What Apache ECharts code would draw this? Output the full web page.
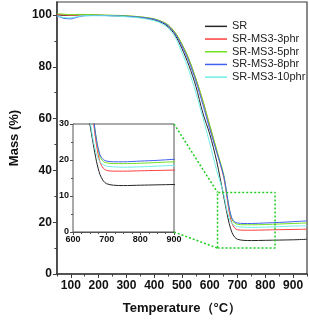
<!DOCTYPE html>
<html>
<head>
<meta charset="utf-8">
<script src="https://cdn.jsdelivr.net/npm/echarts@6/dist/echarts.min.js"></script>
<style>html,body{margin:0;padding:0;background:#fff}#c{width:309px;height:320px}</style>
</head>
<body>
<div id="c"></div>
<script>
const temps = [50,75,100,125,150,200,250,300,350,400,430,450,475,500,525,550,575,600,625,650,660,670,680,690,700,720,750,800,850,900,950];
const SR      = [100,99.8,99.9,100,100.1,99.9,99.7,99.5,99.0,98.1,96.9,95.5,92.3,87.0,80.5,72.5,62.2,54,43.5,30,24.5,19.5,16,14.2,13.4,13.0,12.9,13.0,13.1,13.2,13.4];
const MS3_3   = [100.2,100.0,99.9,100.0,100.1,99.9,99.8,99.6,99.2,98.4,97.3,96.1,93.2,88.6,82.8,75.3,66.8,57.2,47.5,37.5,31,24,19.5,17.7,17.1,16.9,16.9,17.0,17.1,17.2,17.3];
const MS3_5   = [100.6,100.3,100.1,100.2,100.2,100.0,99.9,99.7,99.3,98.5,97.4,96.2,93.3,88.8,83,75.5,67,57.5,48,38.5,32,25.5,21,19.6,19.2,19.0,19.0,19.1,19.3,19.5,19.7];
const MS3_8   = [99.6,98.7,98.5,99.2,99.7,99.8,99.7,99.5,99.1,98.3,97.1,95.8,92.8,88.0,82,74.5,65.5,56,47,38,32,25.5,21.5,20.1,19.7,19.5,19.5,19.7,19.9,20.2,20.5];
const MS3_10  = [99.7,99.0,98.9,99.4,99.7,99.7,99.6,99.3,98.8,97.8,96.5,95.0,91.5,85.5,78.5,70,60.5,50.5,40,31,25.5,21.5,19.5,18.7,18.3,18.1,18.0,18.1,18.3,18.5,18.6];

const seriesNames = ['SR','SR-MS3-3phr','SR-MS3-5phr','SR-MS3-8phr','SR-MS3-10phr'];
const seriesValues = [SR, MS3_3, MS3_5, MS3_8, MS3_10];
const colors = ['#262626','#ff4040','#70e020','#4060f0','#70f0e8'];

const xTicks = [100,200,300,400,500,600,700,800,900];
const xMinorTicks = [50,150,250,350,450,550,650,750,850,950];
const yTicks = [0,20,40,60,80,100];
const yMinorTicks = [10,30,50,70,90];
const insetXTicks = [600,700,800,900];
const insetYTicks = [0,10,20,30];
const zoomBoxX = [628,835];
const zoomBoxY = [10,31.5];

const FONT = 'Liberation Sans, Arial, sans-serif';
const AX = '#3c3c3c';

const chart = echarts.init(document.getElementById('c'), null, {renderer:'canvas'});

function mk(n,i,xi,yi,z){
  return {
    name:n, type:'line', xAxisIndex:xi, yAxisIndex:yi, symbol:'none', showSymbol:false, smooth:0.3,
    data: temps.map((t,k)=>[t, seriesValues[i][k]]),
    lineStyle:{color:colors[i], width:1}, itemStyle:{color:colors[i]}, clip:true, z:z
  };
}
const mainSeries = seriesNames.map((n,i)=>mk(n,i,0,0,3));
const insetSeries = seriesNames.map((n,i)=>mk(n,i,2,2,5));
const boxSeries = {
  name:'zoombox', type:'line', xAxisIndex:0, yAxisIndex:0, symbol:'none', silent:true,
  data:[[zoomBoxX[0],zoomBoxY[0]],[zoomBoxX[1],zoomBoxY[0]],[zoomBoxX[1],zoomBoxY[1]],[zoomBoxX[0],zoomBoxY[1]],[zoomBoxX[0],zoomBoxY[0]]],
  lineStyle:{color:'#22cc22', width:1.5, type:[2,2]}, z:4
};

chart.setOption({
  animation:false,
  backgroundColor:'#fff',
  textStyle:{fontFamily:FONT},
  grid:[
    {left:48, right:2, top:2, bottom:46, show:true, borderColor:AX, borderWidth:1.2, backgroundColor:'transparent', z:0},
    {left:73, top:124, width:101, height:108, show:true, borderColor:'#555', borderWidth:1, backgroundColor:'#fff', z:2}
  ],
  legend:{
    orient:'vertical', left:205, top:20, padding:0, itemWidth:22, itemHeight:1.5, itemGap:0, icon:'rect',
    data:seriesNames,
    textStyle:{fontFamily:FONT, fontSize:11, color:'#222', lineHeight:12.7, height:12.7}
  },
  xAxis:[
    {type:'value', gridIndex:0, position:'bottom', min:50, max:950,
     axisLine:{show:true, onZero:false, lineStyle:{color:AX, width:1.5}},
     axisTick:{show:true, inside:false, length:4, customValues:xTicks, lineStyle:{color:AX}},
     axisLabel:{customValues:xTicks, fontFamily:FONT, fontWeight:'bold', fontSize:12, color:'#111', margin:6},
     splitLine:{show:false},
     name:'Temperature（°C）', nameLocation:'middle', nameGap:28,
     nameTextStyle:{fontFamily:FONT, fontWeight:'bold', fontSize:13, color:'#111'}},
    {type:'value', gridIndex:0, position:'bottom', min:50, max:950,
     axisLine:{show:false, onZero:false},
     axisTick:{show:true, inside:false, length:2.5, customValues:xMinorTicks, lineStyle:{color:AX}},
     axisLabel:{show:false}, splitLine:{show:false}},
    {type:'value', gridIndex:1, position:'bottom', min:600, max:900, interval:100,
     axisLine:{show:true, onZero:false, lineStyle:{color:'#555', width:1}},
     axisTick:{show:true, inside:false, length:3, lineStyle:{color:'#555'}},
     minorTick:{show:true, splitNumber:4, length:2, lineStyle:{color:'#555'}},
     axisLabel:{customValues:insetXTicks, fontFamily:FONT, fontWeight:'bold', fontSize:9, color:'#111', margin:3},
     splitLine:{show:false}}
  ],
  yAxis:[
    {type:'value', gridIndex:0, position:'left', min:0, max:105,
     axisLine:{show:true, onZero:false, lineStyle:{color:AX, width:1.5}},
     axisTick:{show:true, inside:false, length:4, customValues:yTicks, lineStyle:{color:AX}},
     axisLabel:{customValues:yTicks, fontFamily:FONT, fontWeight:'bold', fontSize:12, color:'#111', margin:5},
     splitLine:{show:false},
     name:'Mass (%)', nameLocation:'middle', nameGap:31,
     nameTextStyle:{fontFamily:FONT, fontWeight:'bold', fontSize:13, color:'#111'}},
    {type:'value', gridIndex:0, position:'left', min:0, max:105,
     axisLine:{show:false, onZero:false},
     axisTick:{show:true, inside:false, length:2.5, customValues:yMinorTicks, lineStyle:{color:AX}},
     axisLabel:{show:false}, splitLine:{show:false}},
    {type:'value', gridIndex:1, position:'left', min:0, max:30, interval:10,
     axisLine:{show:true, onZero:false, lineStyle:{color:'#555', width:1}},
     axisTick:{show:true, inside:false, length:3, lineStyle:{color:'#555'}},
     minorTick:{show:true, splitNumber:2, length:2, lineStyle:{color:'#555'}},
     axisLabel:{customValues:insetYTicks, fontFamily:FONT, fontWeight:'bold', fontSize:9, color:'#111', margin:4},
     splitLine:{show:false}}
  ],
  series: mainSeries.concat([boxSeries]).concat(insetSeries)
});

const a1 = chart.convertToPixel({xAxisIndex:2, yAxisIndex:2}, [insetXTicks[insetXTicks.length-1], insetYTicks[insetYTicks.length-1]]);
const a2 = chart.convertToPixel({xAxisIndex:2, yAxisIndex:2}, [insetXTicks[insetXTicks.length-1], insetYTicks[0]]);
const b1 = chart.convertToPixel({xAxisIndex:0, yAxisIndex:0}, [zoomBoxX[0], zoomBoxY[1]]);
const b2 = chart.convertToPixel({xAxisIndex:0, yAxisIndex:0}, [zoomBoxX[0], zoomBoxY[0]]);
chart.setOption({
  graphic:[
    {type:'line', shape:{x1:a1[0], y1:a1[1], x2:b1[0], y2:b1[1]}, style:{stroke:'#22cc22', lineWidth:1.5, lineDash:[2,2]}, z:10},
    {type:'line', shape:{x1:a2[0], y1:a2[1], x2:b2[0], y2:b2[1]}, style:{stroke:'#22cc22', lineWidth:1.5, lineDash:[2,2]}, z:10}
  ]
});
</script>
</body>
</html>
